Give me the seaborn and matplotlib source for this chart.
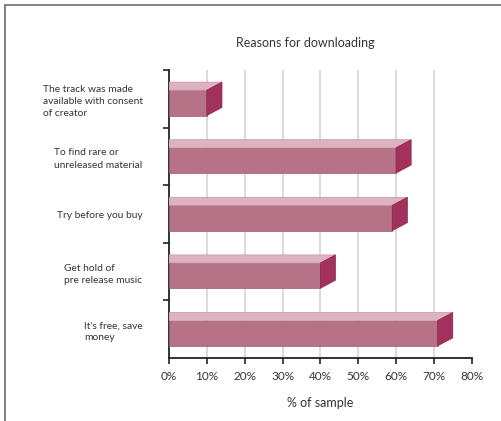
import matplotlib
matplotlib.use("Agg")
import matplotlib.pyplot as plt
import seaborn as sns
import pandas as pd
from matplotlib.patches import Polygon
from matplotlib.lines import Line2D
from matplotlib.ticker import FixedLocator, PercentFormatter

categories = [
    "The track was made\navailable with consent\nof creator",
    "To find rare or\nunreleased material",
    "Try before you buy",
    "Get hold of\npre release music",
    "It's free, save\nmoney",
]
values = [10, 60, 59, 40, 71]
xticks = [0, 10, 20, 30, 40, 50, 60, 70, 80]

sns.set_theme(style="white")
plt.rcParams['font.family'] = ['Lato', 'DejaVu Sans']

FRONT = "#b67287"
TOP = "#ddb3c2"
SIDE = "#a2325c"

df = pd.DataFrame({"reason": categories, "pct": values})

fig = plt.figure(figsize=(5.02, 4.21), dpi=100)
ax = fig.add_axes([169/502, 1-358/421, (471.7-169)/502, (358-70)/421])

sns.barplot(data=df, y="reason", x="pct", orient="h", color=FRONT,
            saturation=1, width=0.44, ax=ax, zorder=3)

dx = 4.0
dy = 0.14
shift = 0.07
for p in ax.patches:
    p.set_y(p.get_y() + shift)
    p.set_edgecolor("#9e5a6f")
    p.set_linewidth(0.5)
    y0 = p.get_y()
    h = p.get_height()
    w = p.get_width()
    top = Polygon([(0, y0), (w, y0), (w + dx, y0 - dy), (0, y0 - dy)],
                  closed=True, facecolor=TOP, edgecolor="#c993a6", lw=0.5, zorder=3)
    side = Polygon([(w, y0), (w + dx, y0 - dy), (w + dx, y0 + h - dy), (w, y0 + h)],
                   closed=True, facecolor=SIDE, edgecolor="#8a2449", lw=0.5, zorder=4)
    ax.add_patch(top)
    ax.add_patch(side)

ax.set_xlim(0, 80)
ax.set_ylim(4.5, -0.5)
ax.xaxis.set_major_locator(FixedLocator(xticks))
ax.xaxis.set_major_formatter(PercentFormatter(decimals=0))

ax.grid(axis="x", color="#d8d8d8", lw=1.3, zorder=0)
ax.set_axisbelow(True)
ax.get_xgridlines()[-1].set_visible(False)
ax.get_xgridlines()[0].set_visible(False)

for s in ["top", "right"]:
    ax.spines[s].set_visible(False)
for s in ["left", "bottom"]:
    ax.spines[s].set_color("#222222")
    ax.spines[s].set_linewidth(1.3)

ax.set_yticks(range(len(categories)))
ax.set_yticks([-0.5, 0.5, 1.5, 2.5, 3.5], minor=True)
ax.tick_params(axis="y", which="major", length=0, pad=19, labelsize=7.4, labelcolor="#333333")
ax.tick_params(axis="y", which="minor", length=4, width=1.2, color="#222222", left=True)
ax.tick_params(axis="x", which="major", length=4, width=1.2, color="#222222", bottom=True,
               labelsize=8.5, labelcolor="#333333", pad=5)
for lab in ax.get_yticklabels():
    lab.set_multialignment("left")
    lab.set_linespacing(1.45)

ax.set_ylabel("")
ax.set_xlabel("% of sample", fontsize=9, color="#333333", labelpad=11)
fig.text(305/502, 1-43/421, "Reasons for downloading", ha="center", va="center",
         fontsize=9, color="#333333")

fig.add_artist(Line2D([5/502, 1], [1-5/421, 1-5/421], transform=fig.transFigure,
                      color="#777777", lw=1.3))
fig.add_artist(Line2D([5/502, 5/502], [0, 1-5/421], transform=fig.transFigure,
                      color="#777777", lw=1.3))

fig.savefig("out.png", dpi=100)
